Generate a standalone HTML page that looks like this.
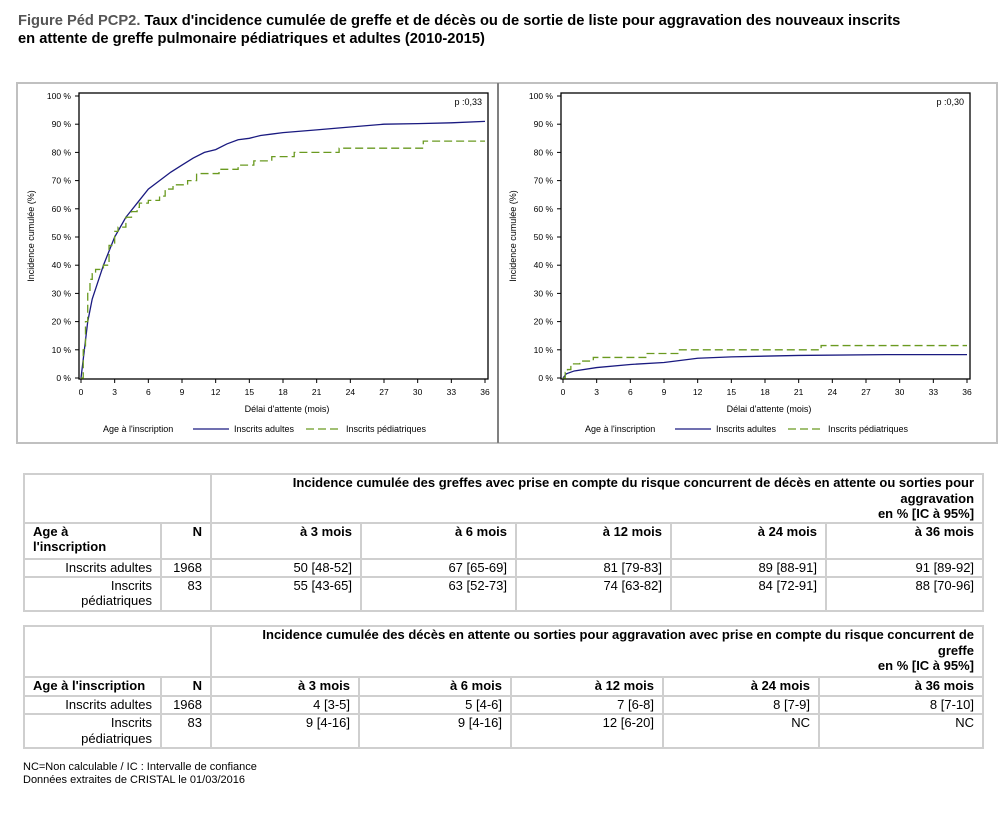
<!DOCTYPE html>
<html><head><meta charset="utf-8"><style>
body{margin:0;background:#fff;font-family:"Liberation Sans",Arial,sans-serif;}
.wrap{position:relative;width:1000px;height:813px;overflow:hidden;}
.title{position:absolute;left:18px;top:12px;font-size:14.7px;font-weight:bold;color:#000;line-height:18px;}
.title span{color:#555;}
table{position:absolute;border-collapse:collapse;table-layout:fixed;font-size:13px;}
td{border:2px solid #cfcfcf;padding:0 8px 0 8px;vertical-align:top;text-align:right;line-height:15.5px;overflow:hidden;}
.b{font-weight:bold;}
.l{text-align:left;}
.foot{position:absolute;left:23px;top:761px;font-size:11px;line-height:13px;}
</style></head><body><div class="wrap">
<div class="title"><span>Figure Péd PCP2.</span> Taux d'incidence cumulée de greffe et de décès ou de sortie de liste pour aggravation des nouveaux inscrits<br>en attente de greffe pulmonaire pédiatriques et adultes (2010-2015)</div>
<svg id="s" width="1000" height="460" style="position:absolute;left:0;top:0" font-family="Liberation Sans,Arial,sans-serif"></svg>
<table style="left:23px;top:473px;width:959px">
<colgroup><col style="width:137px"><col style="width:50px"><col style="width:150px"><col style="width:155px"><col style="width:155px"><col style="width:155px"><col style="width:157px"></colgroup>
<tr style="height:48px"><td colspan="2"></td><td colspan="5" class="b">Incidence cumulée des greffes avec prise en compte du risque concurrent de décès en attente ou sorties pour<br>aggravation<br>en % [IC à 95%]</td></tr>
<tr style="height:36px"><td class="b l">Age à<br>l'inscription</td><td class="b">N</td><td class="b">à 3 mois</td><td class="b">à 6 mois</td><td class="b">à 12 mois</td><td class="b">à 24 mois</td><td class="b">à 36 mois</td></tr>
<tr style="height:18px"><td>Inscrits adultes</td><td>1968</td><td>50 [48-52]</td><td>67 [65-69]</td><td>81 [79-83]</td><td>89 [88-91]</td><td>91 [89-92]</td></tr>
<tr style="height:34px"><td>Inscrits<br>pédiatriques</td><td>83</td><td>55 [43-65]</td><td>63 [52-73]</td><td>74 [63-82]</td><td>84 [72-91]</td><td>88 [70-96]</td></tr>
</table>
<table style="left:23px;top:625px;width:959px">
<colgroup><col style="width:137px"><col style="width:50px"><col style="width:148px"><col style="width:152px"><col style="width:152px"><col style="width:156px"><col style="width:164px"></colgroup>
<tr style="height:51px"><td colspan="2"></td><td colspan="5" class="b">Incidence cumulée des décès en attente ou sorties pour aggravation avec prise en compte du risque concurrent de<br>greffe<br>en % [IC à 95%]</td></tr>
<tr style="height:19px"><td class="b l">Age à l'inscription</td><td class="b">N</td><td class="b">à 3 mois</td><td class="b">à 6 mois</td><td class="b">à 12 mois</td><td class="b">à 24 mois</td><td class="b">à 36 mois</td></tr>
<tr style="height:18px"><td>Inscrits adultes</td><td>1968</td><td>4 [3-5]</td><td>5 [4-6]</td><td>7 [6-8]</td><td>8 [7-9]</td><td>8 [7-10]</td></tr>
<tr style="height:34px"><td>Inscrits<br>pédiatriques</td><td>83</td><td>9 [4-16]</td><td>9 [4-16]</td><td>12 [6-20]</td><td>NC</td><td>NC</td></tr>
</table>
<div class="foot">NC=Non calculable / IC : Intervalle de confiance<br>Données extraites de CRISTAL le 01/03/2016</div>
</div>
<script>
var s=document.getElementById('s'),h='';
h+='<rect x="17" y="83" width="980" height="360" fill="none" stroke="#c0c0c0" stroke-width="2"/>';
h+='<line x1="498" y1="83" x2="498" y2="443" stroke="#808080" stroke-width="2"/>';
function plot(ox,fx0,fx1,p,A,P){
 var y0=378,sy=2.82,sx=(fx1-ox-3)/36;
 var X=function(m){return ox+m*sx},Y=function(v){return y0-v*sy};
 h+='<rect x="'+(ox-2)+'" y="93" width="'+(fx1-ox+2)+'" height="286" fill="#fff" stroke="#000" stroke-width="1.3"/>';
 for(var i=0;i<=10;i++){var y=Y(i*10);h+='<line x1="'+(ox-6)+'" y1="'+y+'" x2="'+(ox-2)+'" y2="'+y+'" stroke="#000"/><text x="'+(ox-10)+'" y="'+(y+3)+'" font-size="8.5" text-anchor="end">'+(i*10)+' %</text>';}
 for(var m=0;m<=36;m+=3){var x=X(m);h+='<line x1="'+x+'" y1="379" x2="'+x+'" y2="383" stroke="#000"/><text x="'+x+'" y="395" font-size="8.5" text-anchor="middle">'+m+'</text>';}
 h+='<text x="'+(ox+206)+'" y="412" font-size="9" text-anchor="middle">Délai d\'attente (mois)</text>';
 h+='<text transform="translate('+(ox-47)+',236) rotate(-90)" font-size="9" text-anchor="middle">Incidence cumulée (%)</text>';
 h+='<text x="'+(fx1-6)+'" y="105" font-size="9" text-anchor="end">p :'+p+'</text>';
 var a=A.map(function(q){return X(q[0])+','+Y(q[1])}).join(' ');
 h+='<polyline points="'+a+'" fill="none" stroke="#1a1a80" stroke-width="1.3"/>';
 var b='',prev=null;P.forEach(function(q){if(prev)b+=' '+X(q[0])+','+Y(prev[1]);b+=' '+X(q[0])+','+Y(q[1]);prev=q;});
 h+='<polyline points="'+b+'" fill="none" stroke="#6a9a20" stroke-width="1.3" stroke-dasharray="8,4"/>';
 var lx=ox+22;
 h+='<text x="'+lx+'" y="432" font-size="9">Age à l\'inscription</text>';
 h+='<line x1="'+(lx+90)+'" y1="429" x2="'+(lx+126)+'" y2="429" stroke="#1a1a80" stroke-width="1.3"/><text x="'+(lx+131)+'" y="432" font-size="9">Inscrits adultes</text>';
 h+='<line x1="'+(lx+203)+'" y1="429" x2="'+(lx+238)+'" y2="429" stroke="#6a9a20" stroke-width="1.3" stroke-dasharray="8,4"/><text x="'+(lx+243)+'" y="432" font-size="9">Inscrits pédiatriques</text>';
}
plot(81,79,488,'0,33',
[[0,0],[0.3,10],[0.6,20],[1,28],[2,40],[3,50],[4,57],[5,62],[6,67],[7,70],[8,73],[9,75.5],[10,78],[11,80],[12,81],[13,83],[14,84.5],[15,85],[16,86],[17,86.5],[18,87],[21,88],[24,89],[27,90],[30,90.2],[33,90.5],[36,91]],
[[0,0],[0.2,10],[0.4,20],[0.6,30],[0.8,35],[1,37],[1.3,38.5],[2,40],[2.5,47],[3,52],[3.3,53.5],[4,57],[4.5,59],[5,60.5],[5.2,62],[6,63],[7,64.5],[7.5,67],[8.2,68.5],[9.5,70],[10.3,72.5],[12.3,74],[14,75.5],[15.4,77],[17,78.5],[19,80],[23,81.5],[30.5,84],[36,84]]);
plot(563,561,970,'0,30',
[[0,0],[0.3,1.5],[1,2.5],[3,3.7],[6,4.8],[9,5.5],[12,7],[15,7.5],[21,8],[28.8,8.3],[36,8.3]],
[[0,0],[0.2,2],[0.4,3],[0.7,5],[1.5,6],[2.7,7.3],[7.5,8.7],[10.3,10],[23,11.5],[36,11.5]]);
s.innerHTML=h;
</script>
</body></html>
